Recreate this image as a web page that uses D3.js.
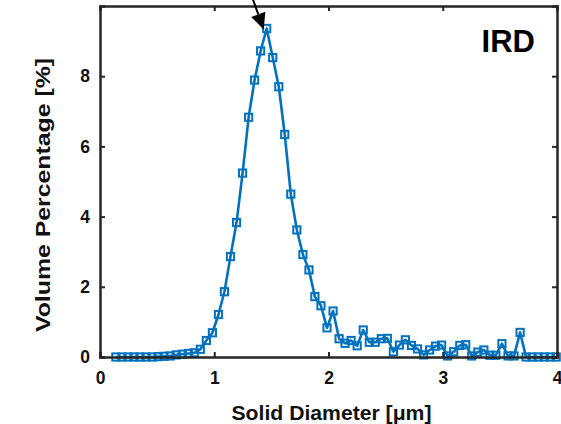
<!DOCTYPE html>
<html><head><meta charset="utf-8">
<script src="https://cdn.jsdelivr.net/npm/d3@7"></script>
<style>body{margin:0;background:#fff}svg{display:block}</style>
</head><body>
<svg id="c" width="561" height="424"></svg>
<script>
const diameters = [0.139,0.192,0.245,0.297,0.350,0.403,0.456,0.509,0.561,0.614,0.667,0.720,0.773,0.825,0.878,0.931,0.984,1.037,1.089,1.142,1.195,1.248,1.301,1.353,1.406,1.459,1.512,1.565,1.617,1.670,1.723,1.776,1.829,1.881,1.934,1.987,2.040,2.093,2.145,2.198,2.251,2.304,2.357,2.409,2.462,2.515,2.568,2.621,2.673,2.726,2.779,2.832,2.885,2.937,2.990,3.043,3.096,3.149,3.201,3.254,3.307,3.360,3.413,3.465,3.518,3.571,3.624,3.677,3.729,3.782,3.835,3.888,3.941,3.993];
const volumePct = [0,0,0,0,0,0,0,0.01,0.02,0.03,0.06,0.08,0.10,0.12,0.22,0.47,0.69,1.21,1.86,2.86,3.83,5.24,6.83,7.89,8.72,9.36,8.53,7.70,6.34,4.64,3.62,2.92,2.48,1.72,1.46,0.83,1.31,0.52,0.39,0.47,0.32,0.77,0.42,0.42,0.52,0.53,0.15,0.34,0.49,0.33,0.23,0.06,0.20,0.31,0.34,0.03,0.15,0.33,0.35,0.03,0.14,0.20,0.05,0.05,0.38,0.03,0.03,0.70,0,0,0,0,0,0];
const xTicks = [0,1,2,3,4];
const yTicks = [0,2,4,6,8];
const xLabel = "Solid Diameter [\u03bcm]";
const yLabel = "Volume Percentage [%]";
const panelLabel = "IRD";

const svg = d3.select("#c");
const L=100, R=557, T=6, B=357;
const x = d3.scaleLinear().domain([0,4]).range([L,R]);
const y = d3.scaleLinear().domain([0,10]).range([B,T]);
const font = "'Liberation Sans', Arial, sans-serif";
const axisColor = "#262626";
const blue = "#0072BD";

// data line
const data = diameters.map((d,i)=>({x:d,y:volumePct[i]}));
svg.append("path").datum(data)
  .attr("d", d3.line().x(d=>x(d.x)).y(d=>y(d.y)))
  .attr("fill","none").attr("stroke",blue).attr("stroke-width",2.6).attr("stroke-linejoin","round");
svg.append("g").selectAll("rect").data(data).join("rect")
  .attr("x",d=>x(d.x)-3.6).attr("y",d=>y(d.y)-3.6)
  .attr("width",7.2).attr("height",7.2)
  .attr("fill","none").attr("stroke",blue).attr("stroke-width",2);

// axes (box with inward ticks)
const tl = 5;
const gx = svg.append("g").attr("transform",`translate(0,${B})`)
  .call(d3.axisBottom(x).tickValues(xTicks).tickSize(-tl).tickPadding(15).tickFormat(d3.format("d")));
const gy = svg.append("g").attr("transform",`translate(${L},0)`)
  .call(d3.axisLeft(y).tickValues(yTicks).tickSize(-tl).tickPadding(10).tickFormat(d3.format("d")));
const gt = svg.append("g").attr("transform",`translate(0,${T})`)
  .call(d3.axisTop(x).tickValues(xTicks).tickSize(-tl).tickFormat(""));
const gr = svg.append("g").attr("transform",`translate(${R},0)`)
  .call(d3.axisRight(y).tickValues(yTicks).tickSize(-tl).tickFormat(""));
[gx,gy,gt,gr].forEach(g=>{
  g.select(".domain").attr("stroke",axisColor).attr("stroke-width",2.5);
  g.selectAll(".tick line").attr("stroke",axisColor).attr("stroke-width",2);
  g.selectAll("text").attr("fill","#111").attr("font-family",font).attr("font-weight","bold").attr("font-size",17.5);
});

// axis labels
svg.append("text").attr("x",(L+R)/2+3).attr("y",420)
  .attr("text-anchor","middle").attr("font-family",font).attr("font-weight","bold").attr("font-size",21).attr("fill","#111")
  .attr("textLength",200).attr("lengthAdjust","spacingAndGlyphs")
  .text(xLabel);
svg.append("text").attr("transform",`translate(50,${195}) rotate(-90)`)
  .attr("text-anchor","middle").attr("font-family",font).attr("font-weight","bold").attr("font-size",20.5).attr("fill","#111")
  .attr("textLength",274).attr("lengthAdjust","spacingAndGlyphs")
  .text(yLabel);

// panel label
svg.append("text").attr("x",535).attr("y",52).attr("text-anchor","end")
  .attr("font-family",font).attr("font-weight","bold").attr("font-size",31).attr("fill","#000")
  .text(panelLabel);

// arrow to peak
const peakIdx = volumePct.indexOf(d3.max(volumePct));
const px = x(diameters[peakIdx]), py = y(volumePct[peakIdx]);
const tip = [px-3, py+1], start = [px-15, -4];
const ang = Math.atan2(tip[1]-start[1], tip[0]-start[0]);
const hl = 16, hw = 7.5;
const bx = tip[0]-hl*Math.cos(ang), by = tip[1]-hl*Math.sin(ang);
svg.append("line").attr("x1",start[0]).attr("y1",start[1]).attr("x2",bx).attr("y2",by)
  .attr("stroke","#000").attr("stroke-width",2);
svg.append("path").attr("d",`M${tip[0]},${tip[1]} L${bx+hw*Math.sin(ang)},${by-hw*Math.cos(ang)} L${bx-hw*Math.sin(ang)},${by+hw*Math.cos(ang)} Z`)
  .attr("fill","#000");
</script>
</body></html>
